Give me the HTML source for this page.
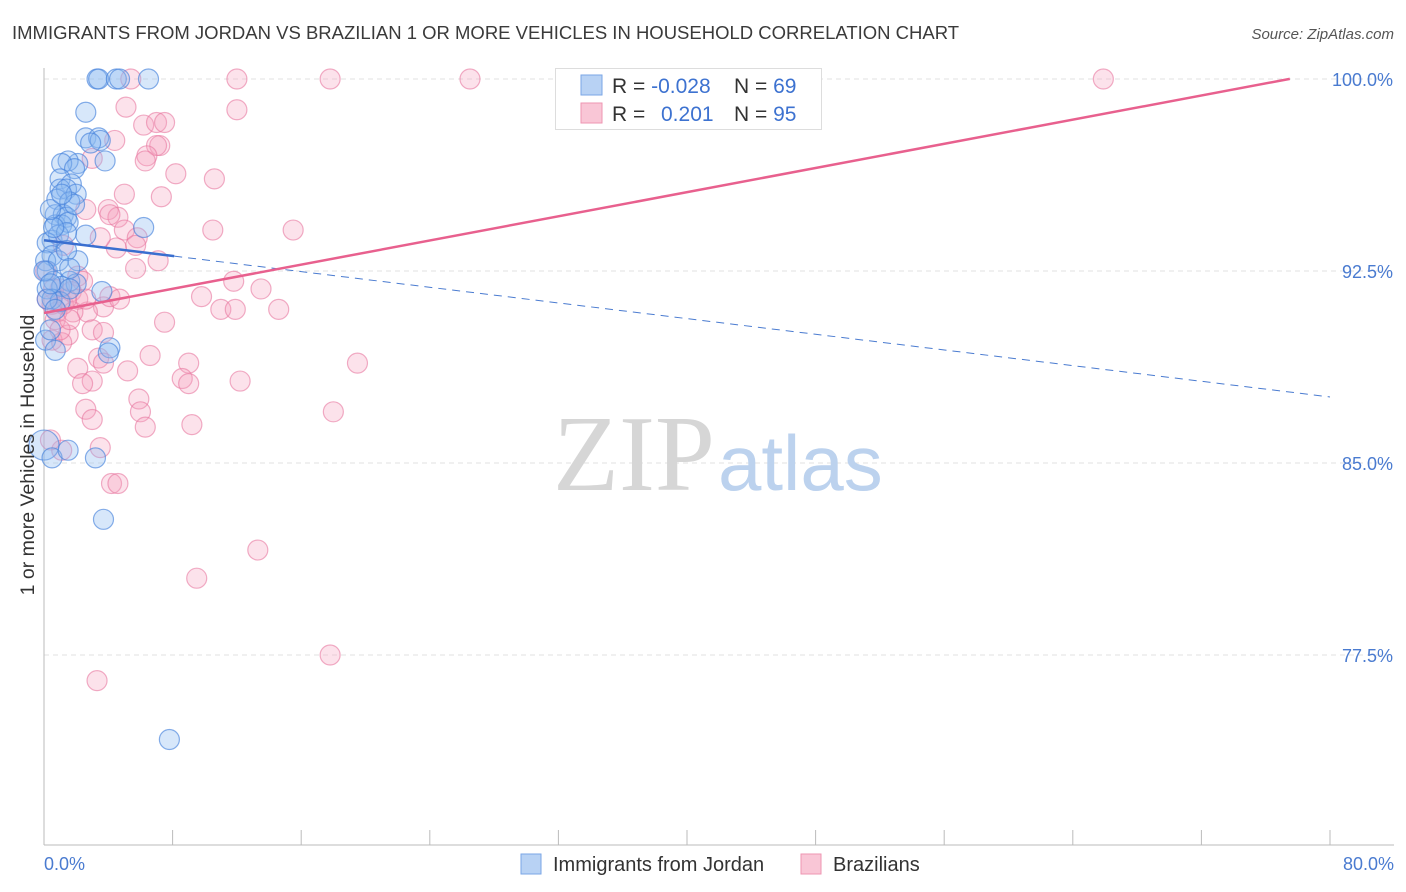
<!DOCTYPE html>
<html><head><meta charset="utf-8"><style>
html,body{margin:0;padding:0;background:#fff;}
svg{display:block;font-family:"Liberation Sans",sans-serif;}
</style></head><body>
<svg id="chart" width="1406" height="892" viewBox="0 0 1406 892">
<text x="12" y="39" font-size="18.5" fill="#3a3a3a">IMMIGRANTS FROM JORDAN VS BRAZILIAN 1 OR MORE VEHICLES IN HOUSEHOLD CORRELATION CHART</text>
<text x="1394" y="39" font-size="15" fill="#555" font-style="italic" text-anchor="end">Source: ZipAtlas.com</text>
<g id="grid"></g>
<g>
<text x="553" y="490" font-size="108" font-family="Liberation Serif,serif" fill="#d6d6d6">ZIP</text>
<text x="718" y="490" font-size="78" fill="#bcd2ee">atlas</text>
</g>
<line x1="44" y1="68" x2="44" y2="845" stroke="#bbb"/>
<line x1="44" y1="845" x2="1394" y2="845" stroke="#bbb"/>
<g id="xticks"></g>
<g id="ylabels"></g>
<g id="pinkpts"></g>
<g id="bluepts"></g>
<g id="trends"></g>
<text x="44" y="870" font-size="18" fill="#4a7bd0">0.0%</text>
<text x="1394" y="870" font-size="18" fill="#4a7bd0" text-anchor="end">80.0%</text>
<text transform="translate(34,455) rotate(-90)" font-size="19.5" fill="#333" text-anchor="middle">1 or more Vehicles in Household</text>
<g>
<rect x="555.5" y="68.5" width="266" height="61" fill="#fff" stroke="#ddd"/>
<rect x="581" y="75" width="21" height="20" fill="#b8d2f4" stroke="#7aa6e6"/>
<rect x="581" y="103" width="21" height="20" fill="#f9c6d6" stroke="#ee95b2"/>
<text x="612" y="93" font-size="21" fill="#333">R = <tspan fill="#3d72d0">-0.028</tspan></text>
<text x="734" y="93" font-size="21" fill="#333">N = <tspan fill="#3d72d0">69</tspan></text>
<text x="612" y="121" font-size="21" fill="#333">R = </text>
<text x="661" y="121" font-size="21" fill="#3d72d0">0.201</text>
<text x="734" y="121" font-size="21" fill="#333">N = <tspan fill="#3d72d0">95</tspan></text>
</g>
<g>
<rect x="521" y="854" width="20" height="20" fill="#b8d2f4" stroke="#7aa6e6"/>
<text x="553" y="871" font-size="20" fill="#333">Immigrants from Jordan</text>
<rect x="801" y="854" width="20" height="20" fill="#f9c6d6" stroke="#ee95b2"/>
<text x="833" y="871" font-size="20" fill="#333">Brazilians</text>
</g>
</svg>
<script>
const yTicks=[100,92.5,85,77.5];
const yTickLabels=["100.0%","92.5%","85.0%","77.5%"];
const xTicks=[0,8,16,24,32,40,48,56,64,72,80];
const blueX=[3.3,3.4,4.5,4.7,6.5,2.6,2.6,3.4,3.5,2.9,3.8,2.1,1.5,1.1,1.9,1.0,1.7,1.0,1.4,2.0,0.8,1.6,0.7,1.2,1.4,0.7,1.1,1.5,0.5,0.9,0.2,2.6,6.2,0.5,2.1,0.1,0.2,0.6,1.6,2.0,1.1,0.2,3.6,0.5,1.0,0.1,0.7,4.1,4.0,0,0.5,1.5,3.2,3.7,7.8,0.2,0.7,0.9,0.4,1.4,1.9,0.6,1.4,1.6,0.4,1.1,0,1.6,0.4];
const blueY=[100,100,100,100,100,98.7,97.7,97.7,97.6,97.5,96.8,96.7,96.8,96.7,96.5,96.1,95.9,95.7,95.7,95.5,95.3,95.2,94.7,94.7,94.6,94.3,94.3,94.4,93.7,93.9,93.6,93.9,94.2,93.1,92.9,92.9,92.5,92.1,92.1,92.0,91.9,91.8,91.7,91.4,91.3,89.8,89.4,89.5,89.3,85.7,85.2,85.5,85.2,82.8,74.2,91.4,91.0,92.9,90.2,94.0,95.1,94.2,93.3,91.8,94.9,95.5,92.5,92.6,92.0];
const pinkX=[5.4,12.0,17.8,26.5,65.9,5.1,12.0,6.2,7.0,7.5,7.2,7.0,6.4,6.3,8.2,10.6,4.4,3.0,7.3,4.0,2.6,4.6,4.1,5.0,10.5,15.5,5.8,5.7,4.5,7.1,5.7,2.1,11.8,13.5,2.4,1.0,9.8,11.0,11.9,14.6,3.7,2.7,1.8,1.2,0.5,0.8,7.5,3.0,3.7,1.5,0.5,1.1,6.6,9.0,19.5,3.4,3.7,2.1,5.2,3.0,2.4,8.6,9.0,12.2,5.9,2.6,6.0,18.0,3.0,9.2,6.3,3.5,1.1,4.2,4.6,13.3,9.5,17.8,3.3,1.7,2.1,1.4,0.7,0.6,0.2,1.0,2.6,4.1,0.4,1.6,4.7,0.1,1.2,3.5,5.0];
const pinkY=[100,100,100,100,100,98.9,98.8,98.2,98.3,98.3,97.4,97.4,97.0,96.8,96.3,96.1,97.6,96.9,95.4,94.9,94.9,94.6,94.7,94.1,94.1,94.1,93.8,93.5,93.4,92.9,92.6,92.3,92.1,91.8,92.1,91.8,91.5,91.0,91.0,91.0,91.1,90.9,90.9,91.2,91.2,90.9,90.5,90.2,90.1,90.0,89.8,89.7,89.2,88.9,88.9,89.1,88.9,88.7,88.6,88.2,88.1,88.3,88.1,88.2,87.5,87.1,87.0,87.0,86.7,86.5,86.4,85.6,85.5,84.2,84.2,81.6,80.5,77.5,76.5,91.7,91.4,91.4,90.6,91.8,91.4,90.2,91.4,91.5,85.9,90.6,91.4,92.5,93.5,93.8,95.5];
const blueTrend=[93.7,-0.0765];
const blueSolidEnd=8.1;
const pinkTrend=[90.86,0.118];
const pinkEnd=77.5;

const NS="http://www.w3.org/2000/svg";
const sx=v=>44+v/80*1286;
const sy=v=>79+(100-v)/7.5*192;
function mk(tag,attrs,parent){const e=document.createElementNS(NS,tag);for(const k in attrs)e.setAttribute(k,attrs[k]);parent.appendChild(e);return e;}
const grid=document.getElementById('grid'),yl=document.getElementById('ylabels'),xt=document.getElementById('xticks');
yTicks.forEach((t,i)=>{
  const l=mk('line',{x1:44,x2:1394,y1:sy(t),y2:sy(t),stroke:'#e2e2e2','stroke-dasharray':'5,4'},grid);
  
  
  const tx=mk('text',{x:1393,y:sy(t)+7,'font-size':18,fill:'#4a7bd0','text-anchor':'end'},yl);
  tx.textContent=yTickLabels[i];
  
  
});
xTicks.forEach(t=>{
  const l=mk('line',{x1:sx(t),x2:sx(t),y1:830,y2:845,stroke:'#bbb'},xt);
  
  
});
const pp=document.getElementById('pinkpts');
pinkX.forEach((x,i)=>{
  const c=mk('circle',{cx:sx(x),cy:sy(pinkY[i]),r:10,fill:'rgba(244,160,190,0.3)',stroke:'rgba(232,120,160,0.6)','stroke-width':1.2},pp);
  
  
});
const bp=document.getElementById('bluepts');
blueX.forEach((x,i)=>{
  const c=mk('circle',{cx:sx(x),cy:sy(blueY[i]),r:(x===0&&blueY[i]<86)?15:10,fill:'rgba(140,185,240,0.35)',stroke:'rgba(70,130,220,0.65)','stroke-width':1.2},bp);
  
  
});
const tr=document.getElementById('trends');
const bf=x=>blueTrend[0]+blueTrend[1]*x, pf=x=>pinkTrend[0]+pinkTrend[1]*x;
let l1=mk('line',{x1:sx(0),y1:sy(bf(0)),x2:sx(blueSolidEnd),y2:sy(bf(blueSolidEnd)),stroke:'#3a6fd0','stroke-width':2.5},tr);


let l2=mk('line',{x1:sx(blueSolidEnd),y1:sy(bf(blueSolidEnd)),x2:sx(80),y2:sy(bf(80)),stroke:'#4a7bd0','stroke-width':1,'stroke-dasharray':'8,6'},tr);


let l3=mk('line',{x1:sx(0),y1:sy(pf(0)),x2:sx(pinkEnd),y2:sy(pf(pinkEnd)),stroke:'#e8608e','stroke-width':2.5},tr);


</script>
</body></html>
